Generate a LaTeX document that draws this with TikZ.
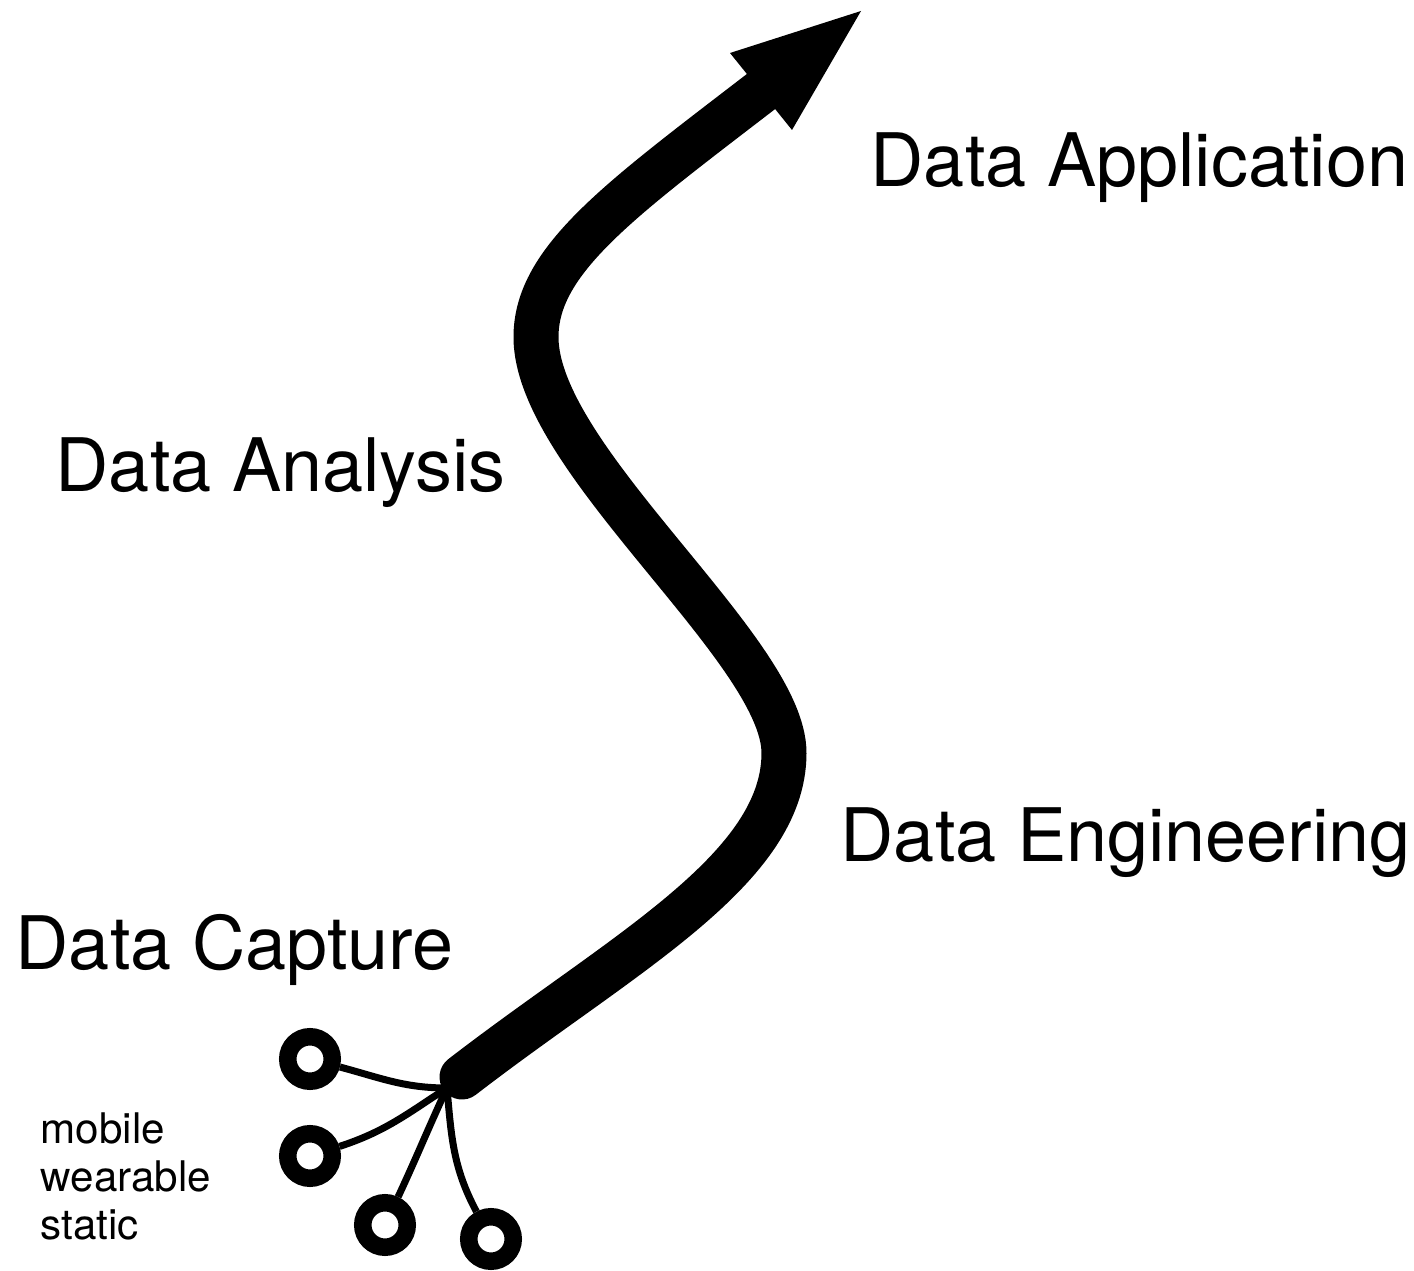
\documentclass[tikz,border=0pt]{standalone}
\usepackage{fontspec}
\setmainfont{TeX Gyre Heros}
\begin{document}
\begin{tikzpicture}[
    pipe/.style={line width=4.5mm, line cap=round, line join=round},
    wire/.style={line width=0.7mm},
    device/.style={circle, draw, line width=1.75mm, minimum size=4.45mm, inner sep=0pt},
    stage/.style={anchor=base west, inner sep=0pt, font=\fontsize{21}{25}\selectfont}]
\useasboundingbox (0,0) rectangle (14.14,-12.71);
\tikzstyle{every node}+=[inner sep=0pt]
\coordinate (hub) at (4.47,-10.88);
\coordinate (start) at (4.62,-10.77);
\coordinate (bendR) at (7.84,-7.53);
\coordinate (bendL) at (5.36,-3.37);
\coordinate (back) at (7.63,-0.90);
\coordinate (tip) at (8.61,-0.11);
\coordinate (wingL) at (7.30,-0.53);
\coordinate (wingR) at (7.92,-1.30);
\node [device] (mobile) at (3.10,-10.59) {};
\node [device] (wearable) at (3.10,-11.56) {};
\node [device] (static) at (3.85,-12.25) {};
\node [device] (extra) at (4.91,-12.39) {};
\draw [wire] (mobile) to[out=-15,in=180] (hub);
\draw [wire] (wearable) to[out=18,in=213] (hub);
\draw [wire] (static) to[out=65,in=245] (hub);
\draw [wire] (extra) to[out=118,in=275] (hub);
\draw [pipe] (start) .. controls (6.2,-9.55) and (7.84,-8.7) .. (bendR)
    .. controls (7.84,-6.5) and (5.36,-4.6) .. (bendL)
    .. controls (5.36,-2.6) and (6.2,-2.0) .. (back);
\fill [black] (tip) -- (wingL) -- (wingR) -- cycle;
\node [stage] (app) at (8.70,-1.87) {Data Application};
\node [stage] (analysis) at (0.55,-4.92) {Data Analysis};
\node [stage] (eng) at (8.40,-8.62) {Data Engineering};
\node [stage] (capture) at (0.15,-9.70) {Data Capture};
\node [anchor=base west, align=left, font=\fontsize{12}{13.7}\selectfont] (kinds) at (0.40,-12.40) {mobile\\wearable\\static};
\end{tikzpicture}
\end{document}
